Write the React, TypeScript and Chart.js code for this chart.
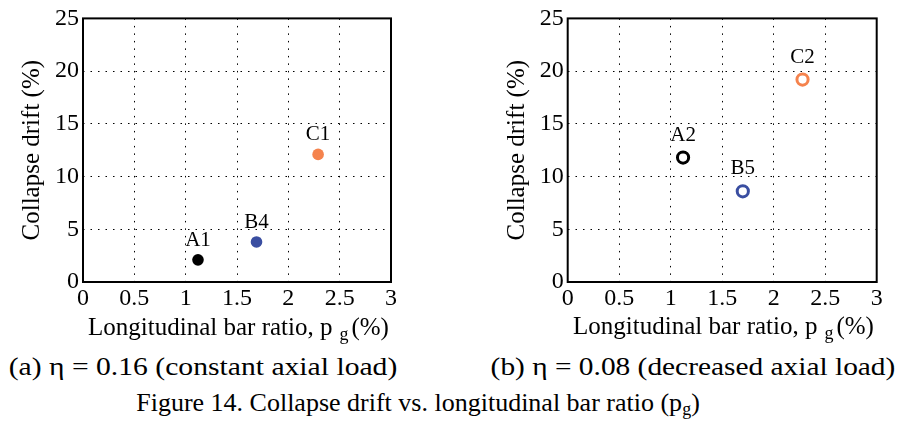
import React, { useEffect, useRef } from "react";
import { Chart, registerables } from "chart.js";

Chart.register(...registerables);

// ---------- data ----------
const xTickValues = [0, 0.5, 1, 1.5, 2, 2.5, 3];
const yTickValues = [0, 5, 10, 15, 20, 25];

const leftLabels = ["A1", "B4", "C1"];
const leftX = [1.12, 1.69, 2.29];
const leftY = [2.1, 3.8, 12.1];

const rightLabels = ["A2", "B5", "C2"];
const rightX = [1.12, 1.7, 2.28];
const rightY = [11.8, 8.6, 19.2];

const pointColors = ["#000000", "#3a4ea1", "#f5834d"];

const yAxisTitle = "Collapse drift (%)";
const captionA = "(a) \u03b7 = 0.16 (constant axial load)";
const captionB = "(b) \u03b7 = 0.08 (decreased axial load)";
const figureCaption = "Figure 14. Collapse drift vs. longitudinal bar ratio (p";

const FONT = "'Liberation Serif', 'Times New Roman', serif";

type Box = {
  width: number;
  height: number;
  plotLeft: number;
  plotRight: number;
  plotTop: number;
  plotBottom: number;
  titleCenter: number;
};

const framePlugin = {
  id: "frame",
  beforeDatasetsDraw(chart: any) {
    const { left, top, right, bottom } = chart.chartArea;
    const ctx = chart.ctx;
    ctx.save();
    ctx.lineWidth = 2;
    ctx.strokeStyle = "#000";
    ctx.strokeRect(left, top, right - left, bottom - top);
    ctx.restore();
  },
};

const pointLabelPlugin = {
  id: "pointLabels",
  afterDatasetsDraw(chart: any) {
    const opts = chart.options.plugins.pointLabels || {};
    const names: string[] = opts.names || [];
    const offset: number = opts.offset || 14;
    const ctx = chart.ctx;
    const meta = chart.getDatasetMeta(0);
    ctx.save();
    ctx.font = `21px ${FONT}`;
    ctx.fillStyle = "#000";
    ctx.textAlign = "center";
    ctx.textBaseline = "alphabetic";
    meta.data.forEach((pt: any, i: number) => {
      ctx.fillText(names[i], pt.x, pt.y - offset);
    });
    ctx.restore();
  },
};

function ScatterPanel(props: {
  names: string[];
  xs: number[];
  ys: number[];
  filled: boolean;
  box: Box;
  labelOffset: number;
  style: React.CSSProperties;
}) {
  const ref = useRef<HTMLCanvasElement | null>(null);
  useEffect(() => {
    const canvas = ref.current;
    if (!canvas) return;
    const { box } = props;
    const titleSize = 25;
    const titleHalf = (titleSize * 1.2) / 2;
    const padLeft = box.titleCenter - titleHalf;
    const yWidth = box.plotLeft - padLeft;
    const xHeight = 40;
    const data = props.xs.map((x, i) => ({ x, y: props.ys[i] }));
    const chart = new Chart(canvas, {
      type: "scatter",
      data: {
        datasets: [
          {
            data,
            pointRadius: props.filled ? 5.8 : 5.6,
            pointHoverRadius: props.filled ? 5.8 : 5.6,
            pointBorderWidth: props.filled ? 0 : 3,
            pointBackgroundColor: props.filled ? pointColors : "#ffffff",
            pointBorderColor: pointColors,
          },
        ],
      },
      options: {
        animation: false,
        responsive: false,
        devicePixelRatio: 1,
        layout: {
          padding: {
            left: padLeft,
            top: box.plotTop,
            right: box.width - box.plotRight,
            bottom: box.height - box.plotBottom - xHeight,
          },
        },
        plugins: {
          legend: { display: false },
          tooltip: { enabled: false },
          pointLabels: { names: props.names, offset: props.labelOffset },
        } as any,
        scales: {
          x: {
            type: "linear",
            min: 0,
            max: 3,
            afterBuildTicks: (s: any) => {
              s.ticks = xTickValues.map((v) => ({ value: v }));
            },
            afterFit: (s: any) => {
              s.height = xHeight;
            },
            ticks: {
              color: "#000",
              font: { family: FONT, size: 24 },
              padding: 2,
              maxRotation: 0,
              autoSkip: false,
              callback: (v: any) => String(v),
            },
            grid: { color: "#000", lineWidth: 1, drawTicks: false },
            border: { display: false, dash: [1.5, 6] },
          },
          y: {
            type: "linear",
            min: 0,
            max: 25,
            afterBuildTicks: (s: any) => {
              s.ticks = yTickValues.map((v) => ({ value: v }));
            },
            afterFit: (s: any) => {
              s.width = yWidth;
            },
            ticks: {
              color: "#000",
              font: { family: FONT, size: 24 },
              padding: 4,
              autoSkip: false,
              callback: (v: any) => String(v),
            },
            title: {
              display: true,
              text: yAxisTitle,
              color: "#000",
              font: { family: FONT, size: titleSize },
              padding: { top: 0, bottom: 0 },
            },
            grid: { color: "#000", lineWidth: 1, drawTicks: false },
            border: { display: false, dash: [1.5, 6] },
          },
        },
      },
      plugins: [framePlugin, pointLabelPlugin],
    });
    return () => chart.destroy();
  }, []);
  return (
    <canvas
      ref={ref}
      width={props.box.width}
      height={props.box.height}
      style={{ position: "absolute", ...props.style, width: props.box.width, height: props.box.height }}
    />
  );
}

function XTitle(props: { center: number; baseline: number }) {
  const fs = 25;
  return (
    <div
      style={{
        position: "absolute",
        left: props.center - 200,
        width: 400,
        top: props.baseline - fs * 0.8375,
        textAlign: "center",
        fontFamily: FONT,
        fontSize: fs,
        lineHeight: `${fs}px`,
        color: "#000",
        whiteSpace: "nowrap",
      }}
    >
      Longitudinal bar ratio, p
      <span style={{ fontSize: 18, position: "relative", top: 5, marginLeft: 7, marginRight: 3 }}>g</span>
      (%)
    </div>
  );
}

function Caption(props: {
  center: number;
  baseline: number;
  text: React.ReactNode;
  fs: number;
  stretch: number;
}) {
  const fs = props.fs;
  return (
    <div
      style={{
        position: "absolute",
        left: props.center - 450,
        width: 900,
        top: props.baseline - fs * 0.8375,
        textAlign: "center",
        fontFamily: FONT,
        fontSize: fs,
        lineHeight: `${fs}px`,
        color: "#000",
        whiteSpace: "nowrap",
        transform: `scaleX(${props.stretch})`,
        transformOrigin: "center",
      }}
    >
      {props.text}
    </div>
  );
}

export default function App() {
  const leftBox: Box = {
    width: 450,
    height: 345,
    plotLeft: 83,
    plotRight: 391,
    plotTop: 16,
    plotBottom: 282,
    titleCenter: 32,
  };
  const rightBox: Box = {
    width: 451,
    height: 345,
    plotLeft: 117.7,
    plotRight: 426.7,
    plotTop: 16,
    plotBottom: 282,
    titleCenter: 67.5,
  };
  return (
    <div
      style={{
        position: "absolute",
        left: 0,
        top: 0,
        width: 901,
        height: 423,
        background: "#fff",
        overflow: "hidden",
      }}
    >
      <ScatterPanel
        names={leftLabels}
        xs={leftX}
        ys={leftY}
        filled={true}
        box={leftBox}
        labelOffset={14}
        style={{ left: 0, top: 0 }}
      />
      <ScatterPanel
        names={rightLabels}
        xs={rightX}
        ys={rightY}
        filled={false}
        box={rightBox}
        labelOffset={17}
        style={{ left: 450, top: 0 }}
      />
      <XTitle center={238.5} baseline={335} />
      <XTitle center={723.5} baseline={334} />
      <Caption center={203} baseline={376} text={captionA} fs={26} stretch={1.14} />
      <Caption center={692.5} baseline={376} text={captionB} fs={26} stretch={1.13} />
      <Caption
        center={418}
        baseline={412}
        fs={26}
        stretch={1.0}
        text={
          <>
            {figureCaption}
            <sub style={{ fontSize: 18, verticalAlign: "-4px" }}>g</sub>)
          </>
        }
      />
    </div>
  );
}
